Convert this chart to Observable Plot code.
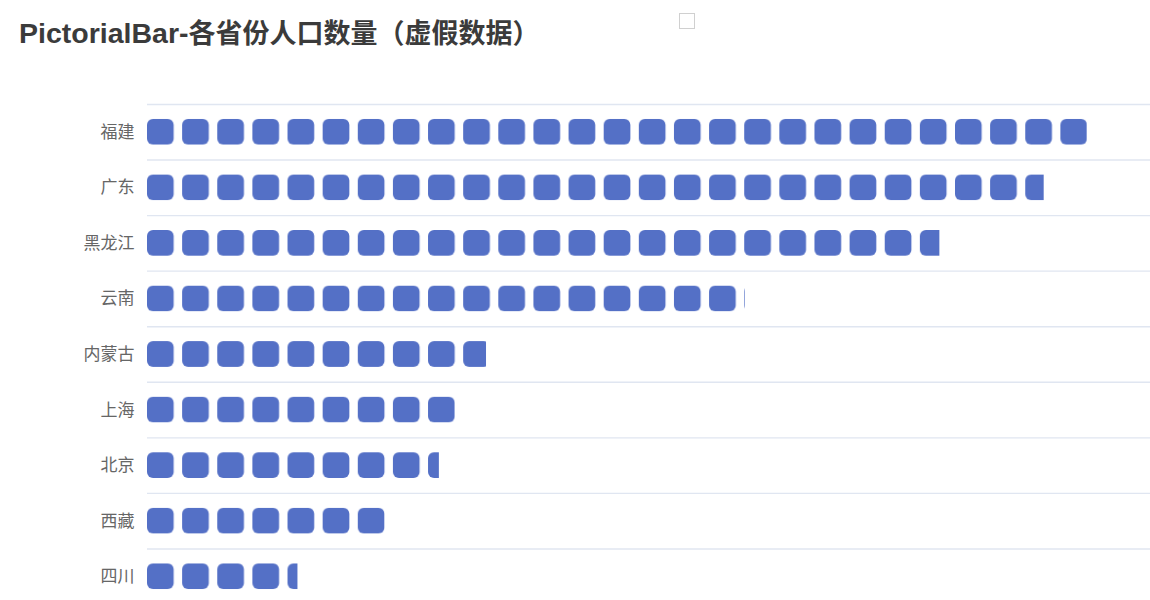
<!DOCTYPE html>
<html><head><meta charset="utf-8">
<script src="https://cdn.jsdelivr.net/npm/d3@7"></script>
<script src="https://cdn.jsdelivr.net/npm/@observablehq/plot@0.6"></script>
<style>
html,body{margin:0;padding:0;background:#fff;overflow:hidden;width:1150px;height:600px}
#title{position:absolute;left:19px;top:20px;font-weight:bold;font-size:27px;font-family:"Liberation Sans","Noto Sans CJK SC",sans-serif;line-height:27px;color:#3b3b3b;white-space:nowrap}
#title .latin{font-size:28.5px}
#legend{position:absolute;left:679px;top:13px;width:14px;height:14px;border:1px solid #d0d0d0}
#chart{position:absolute;left:0;top:60px}
</style></head><body>
<div id="title"><span class="latin"></span><span class="cjk"></span></div><div id="legend"></div><div id="chart"></div>
<script>
const titleLatin = "PictorialBar-";
const titleCJK = "各省份人口数量（虚假数据）";
const provinces = ["福建", "广东", "黑龙江", "云南", "内蒙古", "上海", "北京", "西藏", "四川"];
const population = [937, 894, 790, 596, 338, 307, 291, 237, 150];
const xMax = 1000;

document.querySelector("#title .latin").textContent = titleLatin;
document.querySelector("#title .cjk").textContent = titleCJK;

const W = 1150, H = 544, mT = 44, mB = 0, mL = 147, mR = 0;
const step = (H - mT - mB) / provinces.length;
const period = 35.13, symW = 26.7, symH = 26, rx = 6;
const inset = (step - symH) / 2;
const color = "#5470c6";

const data = provinces.map((p, i) => ({province: p, value: population[i]}));

const chart = Plot.plot({
  width: W, height: H,
  marginTop: mT, marginBottom: mB, marginLeft: mL, marginRight: mR,
  style: {fontFamily: '"Noto Sans CJK SC", sans-serif', fontSize: "17px", color: "#666666", background: "transparent"},
  x: {domain: [0, xMax], axis: null},
  y: {domain: provinces, padding: 0, round: false, label: null, tickSize: 0, tickPadding: 13},
  marks: [
    Plot.ruleY(provinces, {y: d => d, dy: -step / 2, stroke: "#e0e6f1", strokeWidth: 1.4}),
    Plot.barX(data, {x: "value", y: "province", insetTop: inset, insetBottom: inset, fill: "url(#sym)"})
  ]
});

const defs = d3.select(chart).insert("defs", ":first-child");
const pat = defs.append("pattern")
  .attr("id", "sym")
  .attr("patternUnits", "userSpaceOnUse")
  .attr("x", mL).attr("y", mT)
  .attr("width", period).attr("height", step);
pat.append("rect")
  .attr("x", 0).attr("y", inset)
  .attr("width", symW).attr("height", symH)
  .attr("rx", rx).attr("ry", rx)
  .attr("fill", color);

document.getElementById("chart").appendChild(chart);
</script>
</body></html>
